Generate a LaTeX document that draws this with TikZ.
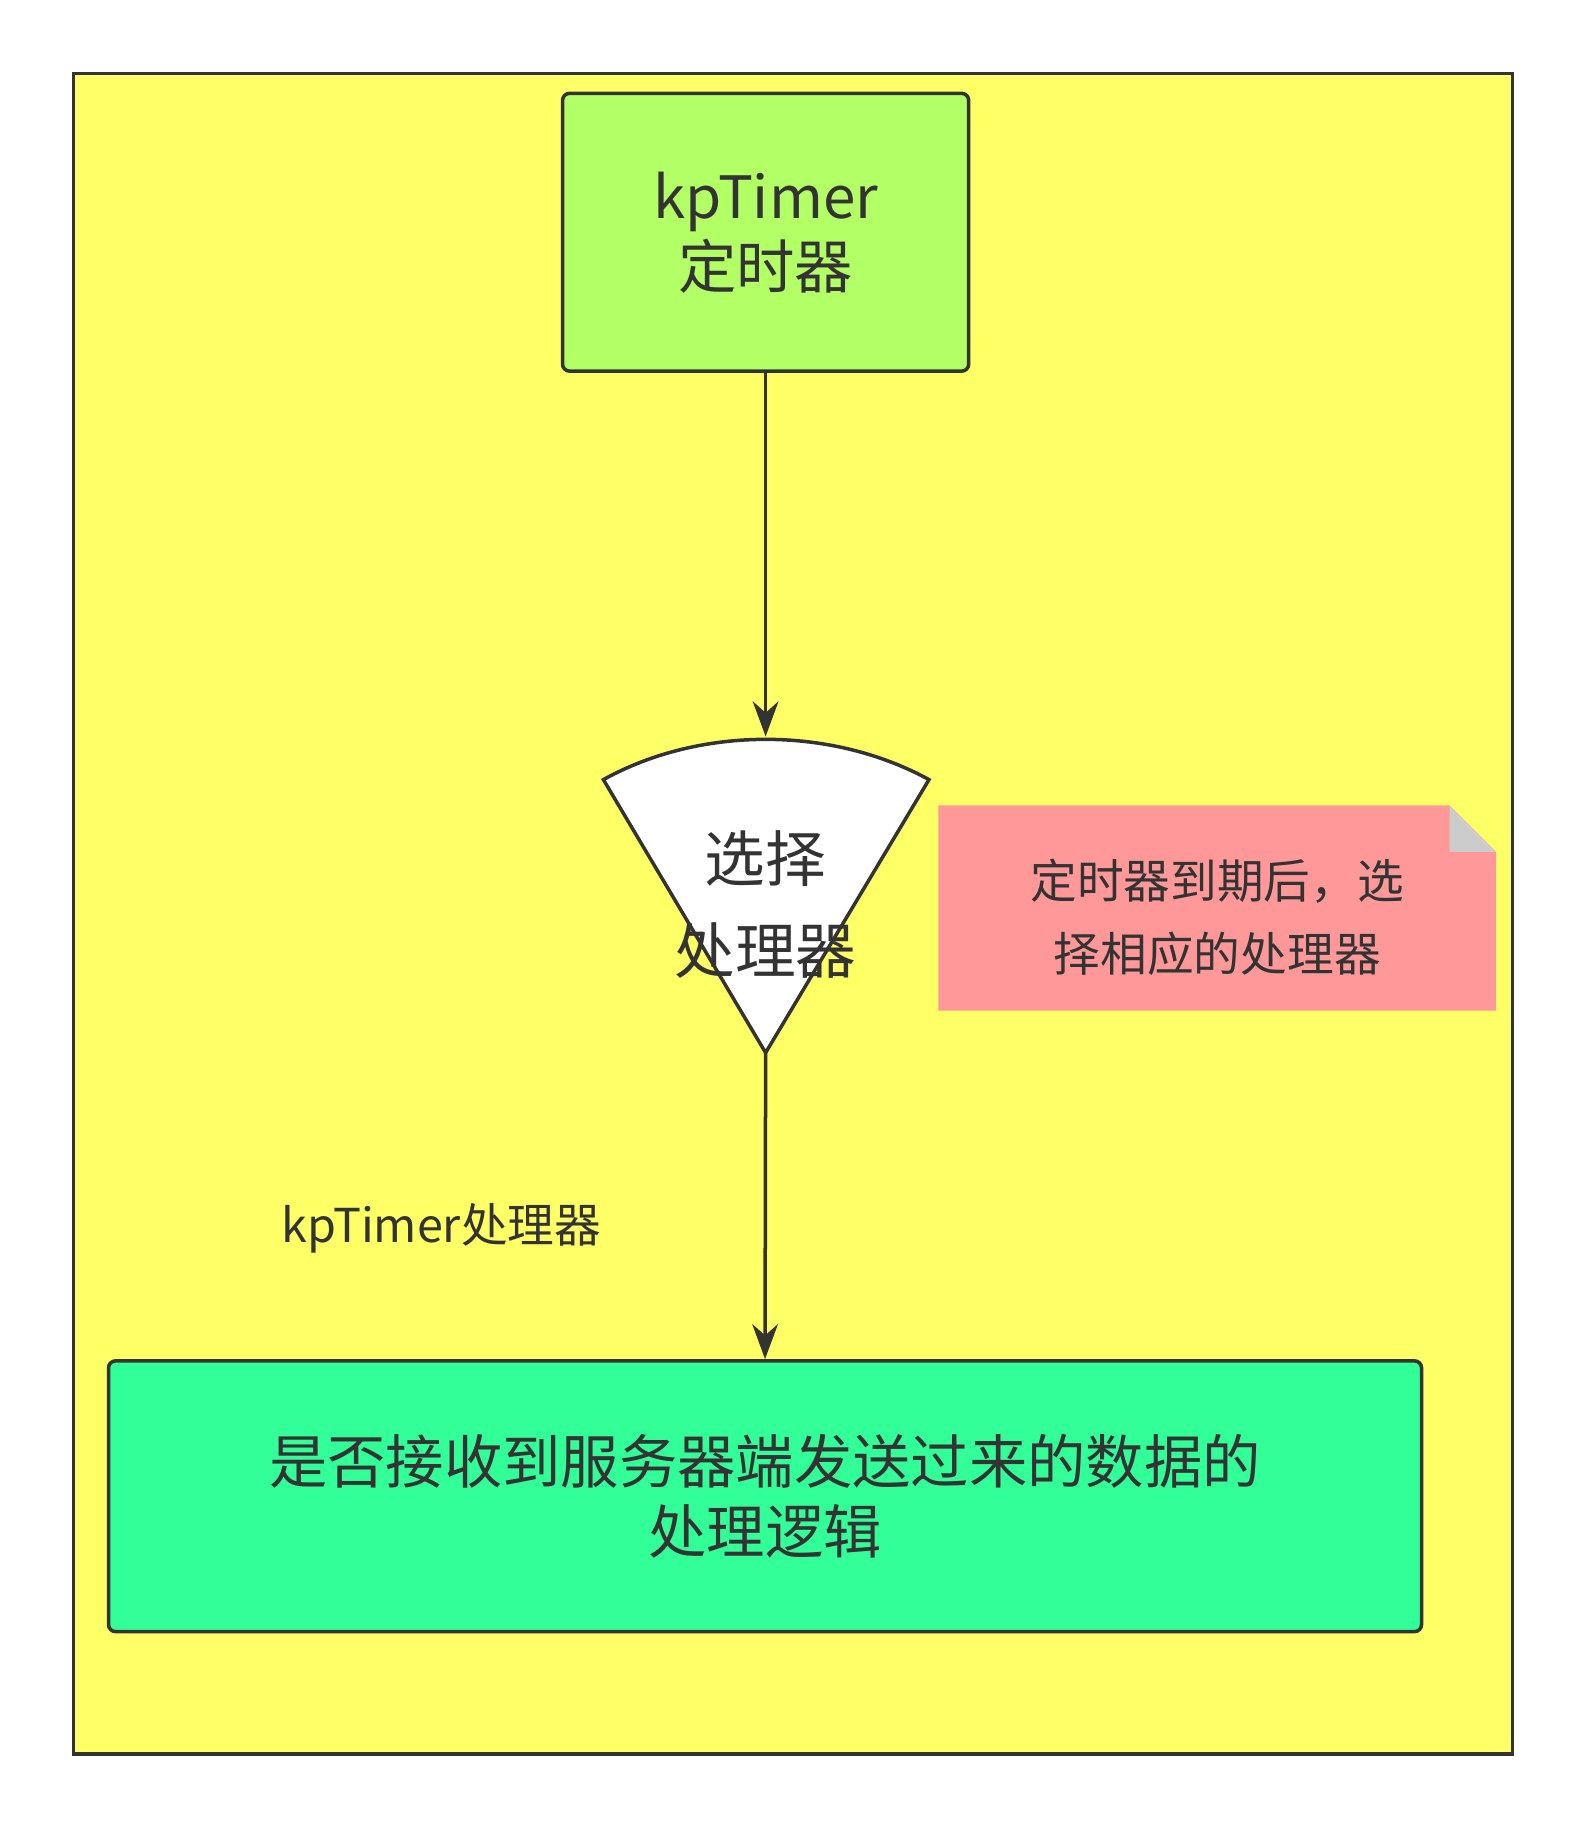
\documentclass[tikz,border=0pt]{standalone}
\usepackage{fontspec}
\setmainfont{Noto Sans CJK SC}
\usetikzlibrary{arrows.meta}
\definecolor{ln}{HTML}{333333}
\tikzset{
 box/.style={draw=ln,line width=3pt,rounded corners=6pt,align=center,text=ln,font=\fontsize{50}{60}\selectfont},
 conn/.style={draw=ln,line width=3pt,-{Stealth[length=30pt,width=22pt]}},
}
\begin{document}
\begin{tikzpicture}[x=1pt,y=-1pt]
\useasboundingbox (0,0) rectangle (1360,1568);
\draw[ln,line width=3pt,fill={rgb,255:red,255;green,255;blue,102}] (63,63) rectangle (1296,1503);
\node[box,fill={rgb,255:red,179;green,255;blue,102},minimum width=348pt,minimum height=238pt] (timer) at (656,199) {kpTimer\\定时器};
\draw[ln,line width=3pt,fill=white] (517,668) .. controls (600,622) and (712,622) .. (796,668) -- (656,902) -- cycle;
\coordinate (seltop) at (656,631);
\coordinate (selbot) at (656,902);
\node[align=center,text=ln,font=\fontsize{52}{78}\selectfont] (sel) at (656,775) {选择\\处理器};
\fill[fill={rgb,255:red,255;green,153;blue,153}] (804,690) -- (1242,690) -- (1282,730) -- (1282,866) -- (804,866) -- cycle;
\fill[fill={rgb,255:red,204;green,204;blue,204}] (1242,690) -- (1282,730) -- (1242,730) -- cycle;
\node[align=center,text=ln,font=\fontsize{40}{62}\selectfont] (note) at (1043,786) {定时器到期后，选\\择相应的处理器};
\node[box,fill={rgb,255:red,51;green,255;blue,153},minimum width=1125pt,minimum height=232pt] (proc) at (655.5,1282) {是否接收到服务器端发送过来的数据的\\处理逻辑};
\draw[conn] (timer.south) -- (seltop);
\draw[conn] (selbot) -- (proc.north);
\node[text=ln,font=\fontsize{40}{48}\selectfont] (lbl) at (378,1052) {kpTimer处理器};
\end{tikzpicture}
\end{document}
